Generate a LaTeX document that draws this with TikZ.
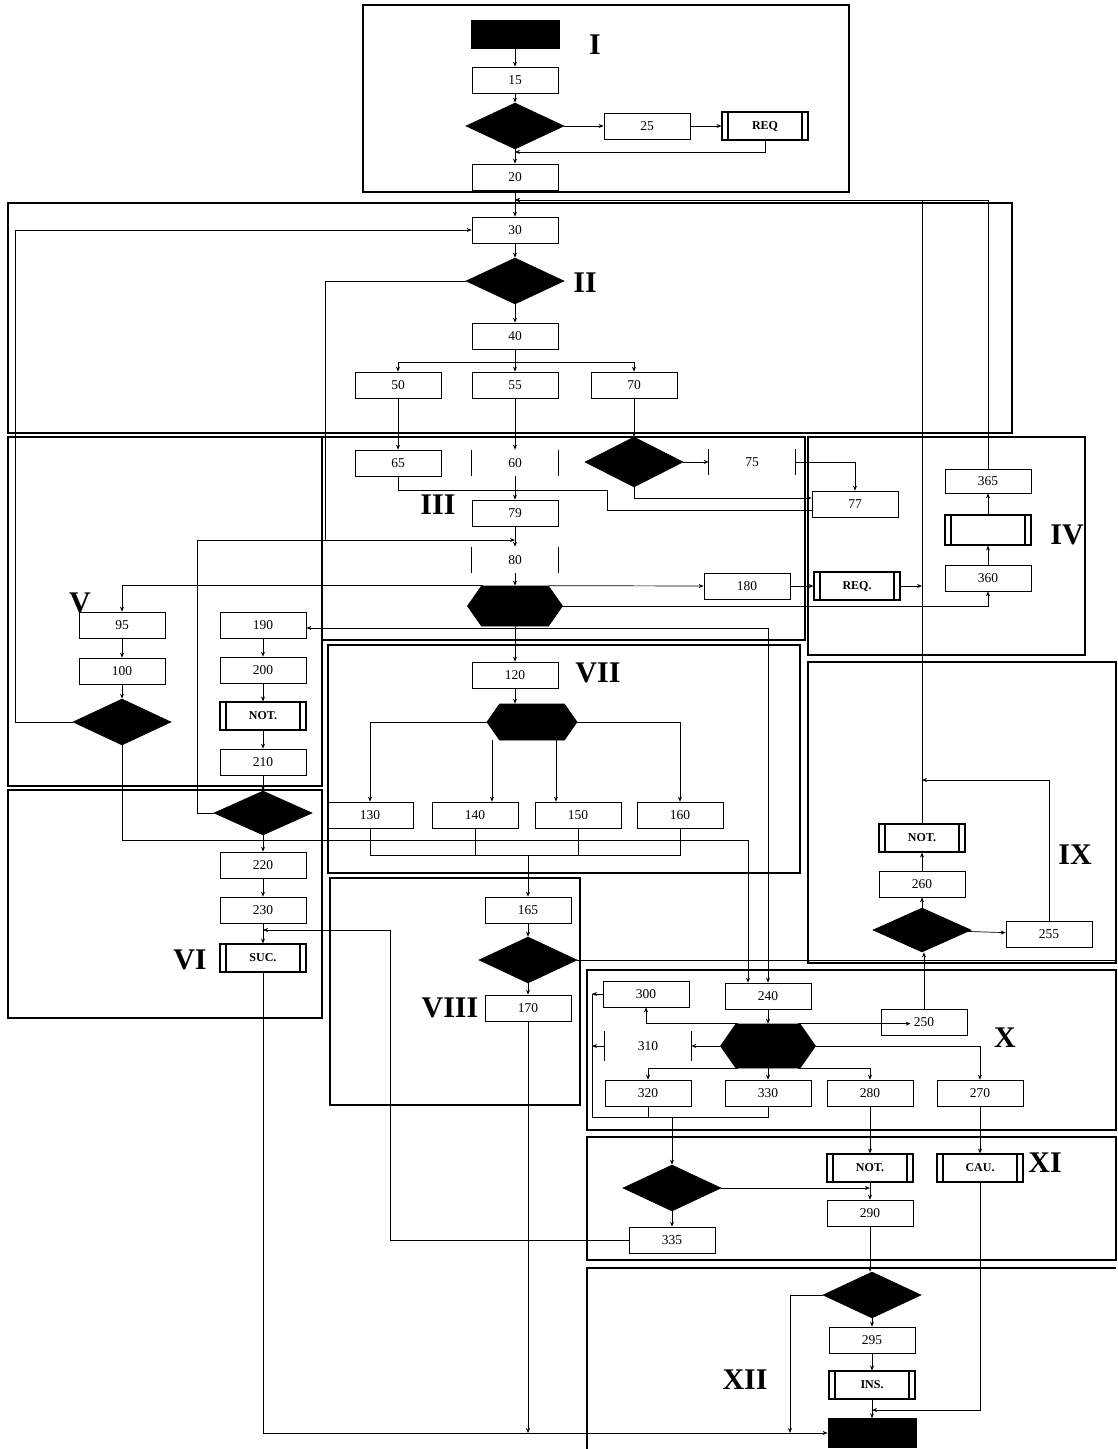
\documentclass[tikz,border=0pt]{standalone}
\usepackage{fontspec}
\setmainfont{Liberation Serif}
\usetikzlibrary{shapes.geometric,shapes.symbols,arrows.meta}

\begin{document}
\begin{tikzpicture}[x=1pt, y=-1pt, line width=0.7pt,
    >={Stealth[length=5pt,width=4pt]},
    box/.style={draw, minimum width=86pt, minimum height=26pt, inner sep=1pt,
        font=\fontsize{13.5}{15}\selectfont},
    pred/.style={box, minimum height=28pt, line width=1.1pt,
        font=\bfseries\fontsize{12}{14}\selectfont,
        path picture={\draw ([xshift=6pt]path picture bounding box.north west) -- ([xshift=6pt]path picture bounding box.south west)
            ([xshift=-6pt]path picture bounding box.north east) -- ([xshift=-6pt]path picture bounding box.south east);}},
    term/.style={draw, fill=black, minimum width=88pt, minimum height=28pt},
    dec/.style={diamond, draw, fill=black, minimum width=98pt, minimum height=46pt, inner sep=0pt},
    hexa/.style={signal, signal to=east and west, signal pointer angle=110, draw, fill=black,
        minimum width=95pt, minimum height=40pt, inner sep=0pt},
    zone/.style={line width=1.2pt},
    roman/.style={font=\bfseries\fontsize{30}{32}\selectfont}]
    \useasboundingbox (0,0) rectangle (1117,1449);

    \draw[zone] (363,5) rectangle (849,192);
    \draw[zone] (8,203) rectangle (1012,433);
    \draw[zone] (322,437) rectangle (805,640);
    \draw[zone] (808,437) rectangle (1085,655);
    \draw[zone] (8,437) rectangle (322,786);
    \draw[zone] (8,790) rectangle (322,1018);
    \draw[zone] (328,645) rectangle (800,873);
    \draw[zone] (330,878) rectangle (580,1105);
    \draw[zone] (808,662) rectangle (1116,963);
    \draw[zone] (587,970) rectangle (1116,1130);
    \draw[zone] (587,1137) rectangle (1116,1260);
    \draw[zone] (587,1449) -- (587,1268) -- (1116,1268);

    \node[roman] (lI) at (595,45) {I};
    \node[roman] (lII) at (585,283) {II};
    \node[roman] (lIII) at (438,505) {III};
    \node[roman] (lIV) at (1067,535) {IV};
    \node[roman] (lV) at (80,603) {V};
    \node[roman] (lVI) at (190,960) {VI};
    \node[roman] (lVII) at (598,673) {VII};
    \node[roman] (lVIII) at (450,1008) {VIII};
    \node[roman] (lIX) at (1075,855) {IX};
    \node[roman] (lX) at (1005,1038) {X};
    \node[roman] (lXI) at (1045,1163) {XI};
    \node[roman] (lXII) at (745,1380) {XII};

    \node[term] (st) at (515,34) {};
    \node[box] (n15) at (515,80) {15};
    \node[dec] (dA) at (515,126) {};
    \node[box] (n25) at (647,126) {25};
    \node[pred] (rqA) at (765,126) {REQ};
    \node[box] (n20) at (515,177) {20};

    \node[box] (n30) at (515,230) {30};
    \node[dec] (dB) at (515,281) {};
    \node[box] (n40) at (515,336) {40};
    \node[box] (n50) at (398,385) {50};
    \node[box] (n55) at (515,385) {55};
    \node[box] (n70) at (634,385) {70};

    \node[box] (n65) at (398,463) {65};
    \node[box, draw=none] (n60) at (515,463) {60};
    \node[dec, minimum height=50pt] (dC) at (634,462) {};
    \node[box, draw=none] (n75) at (752,462) {75};
    \node[box] (n77) at (855,504) {77};
    \node[box] (n79) at (515,513) {79};
    \node[box, draw=none] (n80) at (515,560) {80};
    \node[hexa] (hxA) at (515,606) {};
    \node[box] (n180) at (747,586) {180};
    \node[pred] (rqB) at (857,586) {REQ.};

    \node[box, minimum height=24pt] (n365) at (988,481) {365};
    \node[pred, minimum height=30pt] (pIV) at (988,530) {};
    \node[box] (n360) at (988,578) {360};

    \node[box] (n95) at (122,625) {95};
    \node[box] (n100) at (122,671) {100};
    \node[dec] (dD) at (122,722) {};
    \node[box] (n190) at (263,625) {190};
    \node[box] (n200) at (263,670) {200};
    \node[pred] (ntA) at (263,716) {NOT.};
    \node[box] (n210) at (263,762) {210};

    \node[dec, minimum height=44pt] (dE) at (263,813) {};
    \node[box] (n220) at (263,865) {220};
    \node[box] (n230) at (263,910) {230};
    \node[pred] (scA) at (263,958) {SUC.};

    \node[box] (n120) at (515,675) {120};
    \node[hexa, minimum width=90pt, minimum height=36pt] (hxB) at (532,722) {};
    \node[box] (n130) at (370,815) {130};
    \node[box] (n140) at (475,815) {140};
    \node[box] (n150) at (578,815) {150};
    \node[box] (n160) at (680,815) {160};

    \node[box] (n165) at (528,910) {165};
    \node[dec] (dF) at (528,960) {};
    \node[box] (n170) at (528,1008) {170};

    \node[pred] (ntB) at (922,838) {NOT.};
    \node[box] (n260) at (922,884) {260};
    \node[dec, minimum height=44pt] (dG) at (922,930) {};
    \node[box] (n255) at (1049,934) {255};

    \node[box] (n300) at (646,994) {300};
    \node[box] (n240) at (768,996) {240};
    \node[box] (n250) at (924,1022) {250};
    \node[hexa, minimum height=44pt] (hxC) at (768,1046) {};
    \node[box, draw=none, minimum height=30pt] (n310) at (648,1046) {310};
    \node[box] (n320) at (648,1093) {320};
    \node[box] (n330) at (768,1093) {330};
    \node[box] (n280) at (870,1093) {280};
    \node[box] (n270) at (980,1093) {270};

    \node[dec] (dH) at (672,1188) {};
    \node[pred] (ntC) at (870,1168) {NOT.};
    \node[pred] (cau) at (980,1168) {CAU.};
    \node[box] (n290) at (870,1213) {290};
    \node[box] (n335) at (672,1240) {335};

    \node[dec] (dI) at (872,1295) {};
    \node[box] (n295) at (872,1340) {295};
    \node[pred] (ins) at (872,1385) {INS.};
    \node[term, minimum height=29pt] (en) at (872,1433) {};

    \foreach \n in {n60,n75,n80,n310}
        \draw (\n.north west) -- (\n.south west) (\n.north east) -- (\n.south east);

    \coordinate (jA) at (515,152);
    \coordinate (jC) at (607,490);
    \coordinate (jD) at (515,200);
    \coordinate (jE) at (768,628);
    \coordinate (jF) at (528,855);
    \coordinate (jG) at (748,840);
    \coordinate (jH) at (15,722);
    \coordinate (jI) at (515,540);
    \coordinate (jJ) at (325,540);
    \coordinate (jK) at (197,540);
    \coordinate (jL) at (390,930);
    \coordinate (jM) at (263,930);
    \coordinate (jN) at (790,1433);
    \coordinate (jO) at (922,780);
    \coordinate (jP) at (592,1117);
    \coordinate (jQ) at (872,1410);
    \coordinate (jR) at (515,362);

    \draw[->] (st) -- (n15);
    \draw[->] (n15) -- (dA);
    \draw[->] (dA) -- (n25);
    \draw[->] (n25) -- (rqA);
    \draw[->] (rqA.south) |- (jA);
    \draw[->] (dA) -- (n20);
    \draw[->] (n20) -- (n30);
    \draw[->] (n30) -- (dB);
    \draw[->] (dB) -- (n40);
    \draw (n40) -- (jR);
    \draw[->] (jR) -| (n50.north);
    \draw[->] (jR) -- (n55);
    \draw[->] (jR) -| (n70.north);
    \draw[->] (n50) -- (n65);
    \draw[->] (n55) -- (n60);
    \draw[->] (n70) -- (dC);
    \draw[->] (dC) -- (n75);
    \draw[->] (n75.east) -| (n77.north);
    \draw[->] (dC.south) |- ([yshift=6pt]n77.west);
    \draw (n65.south) |- (jC) |- ([yshift=-6pt]n77.west);
    \draw[->] (n60) -- (n79);
    \draw[->] (n79) -- (n80);
    \draw[->] (n80) -- (hxA);
    \draw[->] (dB.west) -| (jJ) -- (jI);
    \draw (dE.west) -| (jK) -- (jJ);
    \draw[->] (hxA.north east) -- (n180.west);
    \draw[->] (n180) -- (rqB);
    \draw[->] (rqB) -- (rqB -| ntB);
    \draw[->] (hxA.east) -| (n360.south);
    \draw[->] (n360) -- (pIV);
    \draw[->] (pIV) -- (n365);
    \draw[->] (n365.north) |- (jD);
    \draw[->] (ntB.north) |- (jD);
    \draw[->] ([xshift=-32pt]hxA.north) -| (n95.north);
    \draw[->] (jE) -- (n190.east |- jE);
    \draw[->] (jE) -- (jE |- n240.north);
    \draw[->] (hxA) -- (n120);

    \draw[->] (n95) -- (n100);
    \draw[->] (n100) -- (dD);
    \draw[->] (dD.west) -- (jH) |- (n30.west);
    \draw[->] (dD.south) |- (jG) -- (jG |- n240.north);
    \draw[->] (n190) -- (n200);
    \draw[->] (n200) -- (ntA);
    \draw[->] (ntA) -- (n210);
    \draw[->] (n210) -- (dE);
    \draw[->] (dE) -- (n220);
    \draw[->] (n220) -- (n230);
    \draw[->] (n230) -- (scA);

    \draw[->] (n120) -- (n120 |- hxB.north);
    \draw[->] (hxB.west) -| (n130.north);
    \draw[->] ([xshift=-40pt]hxB.south) -- ([xshift=-40pt]hxB.south |- n140.north);
    \draw[->] ([xshift=24pt]hxB.south) -- ([xshift=24pt]hxB.south |- n150.north);
    \draw[->] (hxB.east) -| (n160.north);
    \foreach \n in {n130,n140,n150,n160}
        \draw (\n.south) |- (jF);
    \draw[->] (jF) -- (n165);
    \draw[->] (n165) -- (dF);
    \draw[->] (dF) -- (n170);
    \draw (dF.east) -- (1116,960);
    \draw[->] (n170.south) -- (n170.south |- en.west);

    \draw[->] (n250) -- (n250 |- dG.south);
    \draw[->] (dG) -- (n260);
    \draw[->] (n260) -- (ntB);
    \draw[->] (dG) -- (n255);
    \draw[->] (n255.north) |- (jO);

    \draw[->] (n240) -- (hxC);
    \draw[->] ([xshift=-30pt]hxC.north) -| (n300.south);
    \draw[->] (hxC.west) -- (n310.east);
    \draw[->] ([xshift=-30pt]hxC.south) -| (n320.north);
    \draw[->] (hxC.south) -- (n330);
    \draw[->] ([xshift=30pt]hxC.south) -| (n280.north);
    \draw[->] (hxC.east) -| (n270.north);
    \draw[->] ([xshift=30pt]hxC.north) -- ([xshift=30pt]hxC.north -| n250.west);
    \draw[->] (n300.west) -- (n300.west -| jP);
    \draw[->] (n310.west) -- (n310.west -| jP);
    \draw (jP |- n300.west) -- (jP) -| (n330.south);
    \draw (n320.south) -- (n320.south |- jP);
    \draw[->] (n320.south |- jP) -| (dH.north);

    \draw[->] (dH) -- (n335);
    \draw[->] (dH.east) -- (dH.east -| n290.north);
    \draw[->] (n335.west) -| (jL) -- (jM);
    \draw[->] (n280) -- (ntC);
    \draw[->] (ntC) -- (n290);
    \draw[->] (n270) -- (cau);
    \draw[->] (cau.south) |- (jQ);
    \draw[->] (n290) -- (n290 |- dI.north);
    \draw[->] (dI) -- (n295);
    \draw[->] (n295) -- (ins);
    \draw[->] (ins) -- (en);
    \draw[->] (dI.west) -| (jN);
    \draw[->] (scA.south) |- (en.west);
\end{tikzpicture}
\end{document}
